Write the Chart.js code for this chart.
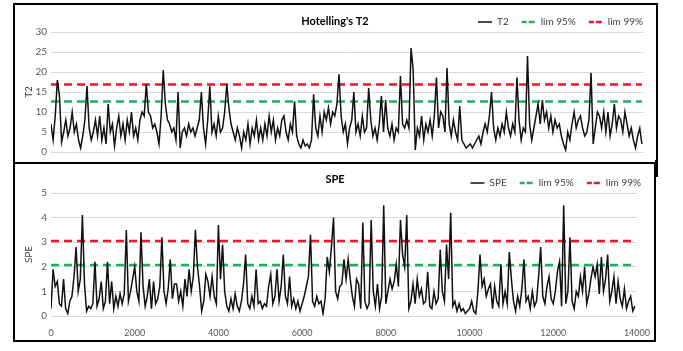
<!DOCTYPE html>
<html>
<head>
<meta charset="utf-8">
<script src="https://cdn.jsdelivr.net/npm/chart.js@4.4.1/dist/chart.umd.min.js"></script>
<style>
  html, body { margin: 0; padding: 0; background: #fff; }
  body { width: 683px; height: 351px; position: relative; overflow: hidden; }
  .panel { position: absolute; box-sizing: border-box; border: 2px solid #000; background: #fff; }
  .panel canvas { display: block; }
  #panelT2 { left: 13px; top: 3px; width: 645px; height: 161px; }
  #panelSPE { left: 13px; top: 162px; width: 643px; height: 180px; }
  #notch { position: absolute; left: 655px; top: 160px; width: 3px; height: 17px; background: #000; }
</style>
</head>
<body>
<div class="panel" id="panelT2"><canvas id="chartT2" width="641" height="157"></canvas></div>
<div class="panel" id="panelSPE"><canvas id="chartSPE" width="639" height="176"></canvas></div>
<div id="notch"></div>
<script>
// one point every 50 samples
var SAMPLE_STEP = 50;

var t2Values = [
  7, 3, 9, 18, 14, 2.5, 5, 8, 4, 6,
  10, 5, 7, 3, 1, 4, 8, 16.5, 6, 3,
  5, 8, 4, 9, 3, 6, 2, 12, 5, 7,
  1.5, 6, 9, 4, 7, 3, 8, 5, 10, 4,
  6, 3, 8, 10, 9, 17, 10, 9, 6, 7,
  5, 2, 9, 20.5, 12, 8, 7, 5, 6, 3,
  15, 1, 5, 6, 4, 7, 5, 6, 4, 6,
  8, 15, 6, 2, 8, 16.5, 5, 7, 4, 9,
  5, 6, 10, 17, 11, 7, 5, 3, 6, 4,
  1, 5, 3, 7, 2, 6, 4, 8, 3, 6,
  3, 7, 4, 9, 5, 8, 3, 6, 4, 8,
  9, 5, 3, 7, 5, 12.7, 4, 2, 1, 3,
  1.5, 2, 1, 3, 14.4, 6, 4, 9, 5, 10,
  8, 11, 7, 10, 9, 12, 19.4, 9, 5, 7,
  2, 6, 8, 15, 5, 7, 4, 9, 5, 6,
  16, 8, 4, 6, 3, 7, 14, 5, 13, 6,
  4, 7, 3, 6, 5, 19, 7, 6, 8, 6,
  26, 20.6, 0.5, 6, 4, 9, 3, 7, 5, 8,
  4, 9, 18.6, 6, 10, 9, 5, 21, 7, 4,
  8, 5, 3, 11.5, 3, 2, 1, 1.5, 2, 1,
  2, 3, 4, 2, 5, 7, 5, 9, 15, 6,
  3, 6, 4, 7, 5, 10, 6, 4, 7, 5,
  18.6, 8, 3, 6, 5, 24, 7, 3, 6, 9,
  12, 7, 13, 8, 10, 6, 9, 5, 8, 6,
  7, 4, 2, 0.5, 5, 3, 7, 10, 6, 8,
  9, 6, 4, 5, 8, 19.8, 2, 6, 10, 9,
  6, 10, 5, 10, 4, 7, 12, 6, 9, 8,
  5, 10, 7, 4, 6, 3, 1, 4, 6, 2
];

var speValues = [
  0.3, 1.9, 1.2, 1.4, 0.5, 0.4, 1.5, 0.3, 0.1, 0.6,
  0.8, 1.6, 2.8, 1.0, 1.5, 4.1, 1.3, 0.2, 0.4, 0.3,
  0.5, 2.2, 0.4, 0.7, 1.4, 0.3, 0.6, 2.2, 0.5, 1.4,
  0.3, 0.8, 0.4, 0.9, 0.5, 0.9, 3.5, 0.6, 1.0, 1.5,
  2.0, 1.0, 0.6, 3.4, 1.2, 0.4, 0.8, 1.5, 0.3, 1.4,
  0.5, 0.7, 1.2, 3.2, 1.0, 0.5, 1.1, 2.3, 0.7, 1.3,
  1.3, 0.6, 1.0, 0.4, 1.5, 0.8, 1.9, 1.0, 1.6, 3.5,
  2.0, 1.2, 0.2, 0.6, 1.7, 1.4, 0.8, 1.6, 0.8, 0.5,
  3.7, 1.5, 2.9, 1.0, 0.4, 0.2, 0.7, 0.3, 0.9, 0.4,
  0.2, 0.6, 1.3, 2.5, 0.5, 0.3, 0.8, 0.4, 1.9, 0.5,
  0.6, 0.3, 0.5, 0.4, 1.2, 1.7, 0.5, 0.8, 1.9, 0.6,
  1.2, 2.5, 0.8, 0.5, 1.6, 0.4, 0.7, 0.3, 0.6, 0.2,
  0.5, 0.8, 1.2, 1.6, 3.3, 0.6, 0.4, 0.8, 0.5, 0.6,
  0.1, 0.7, 2.4, 1.8, 2.8, 4.0, 1.0, 0.7, 1.2, 1.3,
  2.3, 1.5, 2.3, 1.5, 0.8, 0.4, 1.5, 1.3, 0.3, 3.8,
  0.6, 0.3, 0.5, 3.9, 1.0, 0.4, 1.3, 0.3, 0.8, 4.5,
  0.5, 1.0, 1.5, 1.1, 1.4, 2.1, 1.2, 3.9, 2.5, 2.0,
  4.1, 0.3, 0.6, 1.3, 0.5, 1.5, 0.8, 1.1, 0.5, 0.6,
  1.8, 0.4, 0.3, 1.0, 0.5, 0.7, 2.7, 1.0, 0.6, 2.9,
  1.5, 4.2, 0.4, 0.6, 0.2, 0.5, 0.2, 0.3, 0.1, 0.2,
  0.3, 0.6, 0.2, 0.1, 1.0, 2.5, 1.2, 1.5, 0.8, 1.1,
  1.3, 0.3, 1.2, 0.6, 0.4, 2.1, 0.5, 1.0, 0.5, 2.6,
  1.5, 0.6, 0.2, 0.8, 0.4, 1.1, 2.3, 0.6, 0.8, 0.3,
  1.0, 0.4, 0.6, 1.6, 2.8, 0.8, 0.5, 1.2, 1.6, 0.7,
  0.5, 1.0, 1.8, 2.2, 0.4, 4.5, 0.5, 1.0, 3.2, 0.6,
  0.3, 1.0, 0.8, 1.6, 1.0, 2.0, 0.5, 0.9, 1.5, 2.0,
  1.6, 2.1, 0.9, 2.4, 1.0, 1.5, 2.5, 0.6, 1.0, 1.6,
  0.5, 1.4, 0.7, 0.4, 1.1, 0.3, 0.6, 0.8, 0.2, 0.4
];

var sampleIndex = t2Values.map(function (v, i) { return i * SAMPLE_STEP; });

// control limits
var T2_LIM95 = 12.6, T2_LIM99 = 16.9;
var SPE_LIM95 = 2.07, SPE_LIM99 = 3.05;

// tick labels
var xTicks = [0, 2000, 4000, 6000, 8000, 10000, 12000, 14000];
var t2Ticks = [0, 5, 10, 15, 20, 25, 30];
var speTicks = [0, 1, 2, 3, 4, 5];

var FONT = "Lato, 'Open Sans', sans-serif";
Chart.defaults.font.family = FONT;
Chart.defaults.color = '#595959';

// title sits on the same row as the legend, so draw it by hand
var panelTitle = {
  id: 'panelTitle',
  afterDraw: function (chart, args, opts) {
    var ctx = chart.ctx;
    ctx.save();
    ctx.font = 'bold 11px ' + FONT;
    ctx.fillStyle = '#000';
    ctx.textAlign = 'center';
    ctx.textBaseline = 'middle';
    ctx.fillText(opts.text, opts.x, opts.y);
    ctx.restore();
  }
};

function makeChart(id, c) {
  return new Chart(document.getElementById(id), {
    type: 'line',
    data: {
      labels: sampleIndex,
      datasets: [
        { label: c.name, data: c.values, borderColor: '#111', borderWidth: 1.5, pointRadius: 0 },
        { label: 'lim 95%', data: sampleIndex.map(function () { return c.lim95; }),
          borderColor: '#1fae62', borderWidth: 2.5, borderDash: [8, 5], pointRadius: 0 },
        { label: 'lim 99%', data: sampleIndex.map(function () { return c.lim99; }),
          borderColor: '#f0142d', borderWidth: 2.5, borderDash: [8, 5], pointRadius: 0 }
      ]
    },
    options: {
      responsive: false,
      animation: false,
      events: [],
      layout: { padding: { top: c.padTop, right: 0, bottom: 0, left: 0 } },
      plugins: {
        panelTitle: { text: c.title, x: 320, y: c.titleY },
        tooltip: { enabled: false },
        legend: {
          position: 'top',
          align: 'end',
          maxHeight: 28,
          labels: {
            boxWidth: 14,
            boxHeight: 0,
            padding: 13,
            color: '#404040',
            font: { size: 10 },
            generateLabels: function (chart) {
              var items = Chart.defaults.plugins.legend.labels.generateLabels(chart);
              items.forEach(function (it, i) { if (i > 0) it.lineDash = [5, 3]; });
              return items;
            }
          }
        }
      },
      scales: {
        x: {
          type: 'linear', min: 0, max: 14000,
          grid: { display: false },
          border: { display: false },
          afterBuildTicks: function (s) { s.ticks = xTicks.map(function (v) { return { value: v }; }); },
          ticks: {
            display: c.showX, padding: 4, maxRotation: 0, autoSkip: false, font: { size: 9 },
            callback: function (v) { return String(v); }
          },
          afterFit: function (s) { s.height = c.xHeight; }
        },
        y: {
          min: 0, max: c.yTicks[c.yTicks.length - 1],
          afterBuildTicks: function (s) { s.ticks = c.yTicks.map(function (v) { return { value: v }; }); },
          grid: { color: '#d9d9d9', drawTicks: false },
          border: { display: false },
          ticks: { padding: 4, font: { size: 10 } },
          title: { display: true, text: c.name, color: '#404040', font: { size: 10 }, padding: { top: 8, bottom: 0 } },
          afterFit: function (s) { s.width = 36; }
        },
        // empty right gutter between plot and panel edge
        gutter: {
          position: 'right', grid: { display: false }, border: { display: false },
          ticks: { display: false },
          afterFit: function (s) { s.width = c.gutter; }
        }
      }
    },
    plugins: [panelTitle]
  });
}

makeChart('chartT2', {
  name: 'T2', title: "Hotelling's T2", values: t2Values,
  lim95: T2_LIM95, lim99: T2_LIM99, yTicks: t2Ticks,
  padTop: -1, titleY: 16, showX: false, xHeight: 9, gutter: 12
});

makeChart('chartSPE', {
  name: 'SPE', title: 'SPE', values: speValues,
  lim95: SPE_LIM95, lim99: SPE_LIM99, yTicks: speTicks,
  padTop: 1, titleY: 15, showX: true, xHeight: 24, gutter: 10
});
</script>
</body>
</html>
